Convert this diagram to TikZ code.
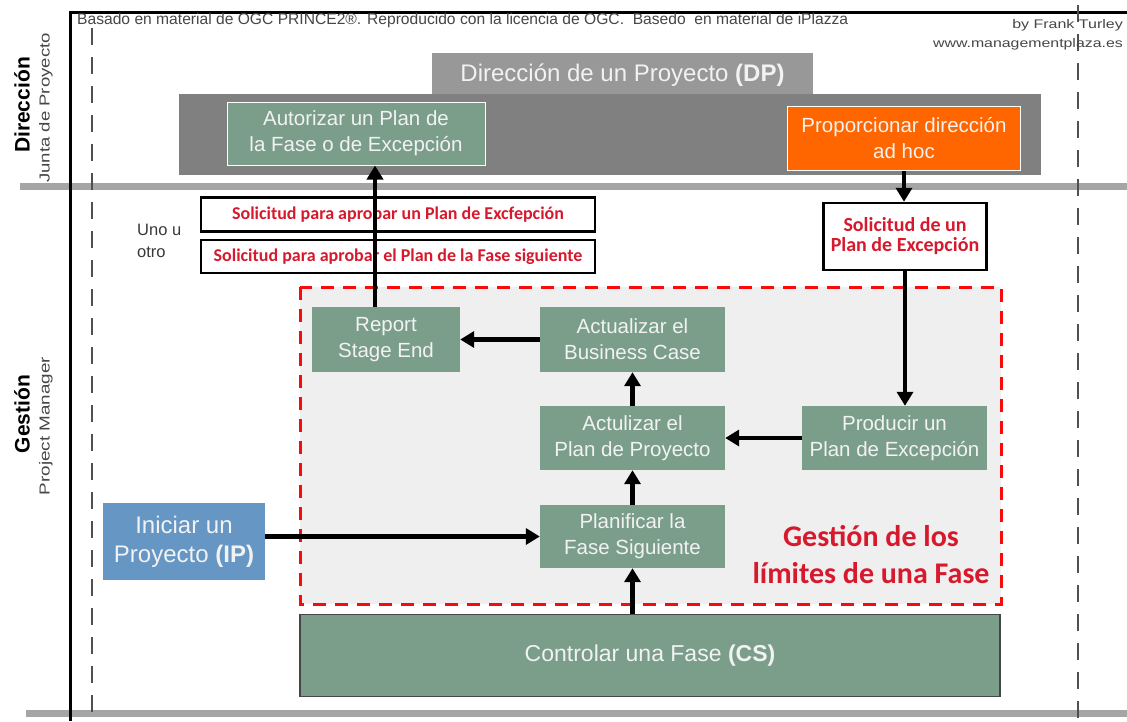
\documentclass[tikz,border=0pt]{standalone}
\usepackage{fontspec}
\setmainfont{Liberation Sans}
\newfontfamily\calib{Carlito}
\usetikzlibrary{arrows.meta}

\definecolor{procgreen}{RGB}{123,158,139}
\definecolor{boardgray}{RGB}{128,128,128}
\definecolor{headgray}{RGB}{152,152,152}
\definecolor{adhocorange}{RGB}{255,102,0}
\definecolor{startblue}{RGB}{101,150,196}
\definecolor{bargray}{RGB}{165,165,165}
\definecolor{zonefill}{RGB}{239,239,239}
\definecolor{zonered}{RGB}{250,10,10}
\definecolor{msgred}{RGB}{215,25,45}
\definecolor{lighttext}{RGB}{242,242,242}
\definecolor{notegray}{RGB}{70,70,70}
\definecolor{dashgray}{RGB}{80,80,80}

\tikzset{
  proc/.style={fill=procgreen, text=lighttext, align=center, inner sep=0pt,
    font=\fontsize{20.5}{26}\selectfont},
  msgbox/.style={draw=black, line width=2.5pt, fill=white, text=msgred, align=center,
    inner sep=0pt, font=\calib\bfseries\fontsize{18}{20}\selectfont},
  flow/.style={line width=4.5pt, -{Triangle[length=14pt,width=16pt]}},
  lane/.style={dashgray, line width=2.6pt, dash pattern=on 17pt off 12pt},
  bar/.style={bargray, line width=7pt},
  sidelabel/.style={rotate=90, inner sep=0pt, text=notegray, font=\fontsize{14.5}{16}\selectfont},
  lanetitle/.style={rotate=90, inner sep=0pt, font=\bfseries\fontsize{21}{22}\selectfont},
}

\begin{document}
\begin{tikzpicture}[x=1pt,y=-1pt]
\useasboundingbox (0,0) rectangle (1127,721);

% swimlane separators
\draw[bar] (20,186) -- (1127,186);
\draw[bar] (26,713) -- (1127,713);

% outer frame
\draw[line width=3pt] (70,721) -- (70,12) -- (1127,12);

% dashed lane guides
\draw[lane] (92,28) -- (92,721);
\draw[lane] (1078,5) -- (1078,721);

% credits
\node[anchor=west, text=notegray, inner sep=0pt] (credit) at (77,20)
  {\resizebox{771pt}{!}{Basado en material de OGC PRINCE2®. Reproducido con la licencia de OGC.\ \ Basedo\ \ en material de iPlazza}};
\node[anchor=east, text=notegray, inner sep=0pt, font=\fontsize{12.5}{14}\selectfont] (author) at (1123,25)
  {\scalebox{1.28}[1]{by Frank Turley}};
\node[anchor=east, text=notegray, inner sep=0pt, font=\fontsize{12.5}{14}\selectfont] (site) at (1123,44)
  {\scalebox{1.27}[1]{www.managementplaza.es}};

% lane labels
\node[lanetitle] (lanedir) at (22,105) {Dirección};
\node[sidelabel] (lanedirsub) at (46,108) {\scalebox{1.28}[1]{Junta de Proyecto}};
\node[lanetitle] (lanegest) at (22,414) {Gestión};
\node[sidelabel] (lanegestsub) at (46,426) {\scalebox{1.3}[1]{Project Manager}};

% Directing a Project
\node[fill=headgray, minimum width=381pt, minimum height=44pt, inner sep=0pt,
  text=lighttext, font=\fontsize{24}{26}\selectfont] (dp) at (622.5,75)
  {Dirección de un Proyecto \textbf{(DP)}};
\node[fill=boardgray, minimum width=862pt, minimum height=81pt, inner sep=0pt] (board) at (610,134.5) {};
\node[proc, draw=white, line width=1pt, minimum width=258pt, minimum height=63pt] (auth) at (356,133.5)
  {Autorizar un Plan de\\la Fase o de Excepción};
\node[proc, fill=adhocorange, draw=white, line width=1pt, minimum width=233pt, minimum height=64pt] (adhoc) at (904,138)
  {Proporcionar dirección\\ad hoc};

% requests
\node[msgbox, minimum width=163pt, minimum height=67pt, font=\calib\bfseries\fontsize{20}{20}\selectfont] (excreq) at (905,236.5)
  {Solicitud de un\\Plan de Excepción};
\node[msgbox, minimum width=394pt, minimum height=34pt] (req1) at (398,214.5)
  {Solicitud para aprobar un Plan de Excfepción};
\node[msgbox, minimum width=394pt, minimum height=33pt] (req2) at (398,256.5)
  {Solicitud para aprobar el Plan de la Fase siguiente};
\node[font=\fontsize{16.5}{22}\selectfont, text=notegray!80!black, align=left, inner sep=0pt, anchor=west] (either) at (137,241)
  {Uno u\\otro};

% stage boundary zone
\draw[fill=zonefill, draw=zonered, line width=3pt, dash pattern=on 13pt off 9pt] (300,287) rectangle (1001,604);
\node[text=msgred, align=center, inner sep=0pt, font=\calib\bfseries\fontsize{30}{37}\selectfont] (zonelabel) at (871,555)
  {Gestión de los\\límites de una Fase};

\node[proc, minimum width=148pt, minimum height=65pt] (rse) at (386,339.5) {Report\\Stage End};
\node[proc, minimum width=185pt, minimum height=65pt] (ubc) at (632.5,339.5) {Actualizar el\\Business Case};
\node[proc, minimum width=185pt, minimum height=64pt] (upp) at (632.5,438) {Actulizar el\\Plan de Proyecto};
\node[proc, minimum width=185pt, minimum height=64pt] (pex) at (894.5,438) {Producir un\\Plan de Excepción};
\node[proc, minimum width=185pt, minimum height=63pt] (pns) at (632.5,536.5) {Planificar la\\Fase Siguiente};

% starting up and controlling
\node[proc, fill=startblue, minimum width=162pt, minimum height=77pt, font=\fontsize{24}{29}\selectfont] (ip) at (184,541.5)
  {Iniciar un\\Proyecto \textbf{(IP)}};
\node[proc, draw=notegray, line width=1.5pt, minimum width=700pt, minimum height=82pt, font=\fontsize{23}{26}\selectfont] (cs) at (650,655.5)
  {Controlar una Fase \textbf{(CS)}};

% flows
\draw[flow] ([xshift=-11pt]rse.north) -- ([xshift=-11pt]rse.north |- auth.south);
\draw[flow] (adhoc.south) -- (adhoc.south |- excreq.north);
\draw[flow] (excreq.south) -- (excreq.south |- pex.north);
\draw[flow] (ubc.west) -- (rse.east);
\draw[flow] (upp.north) -- (ubc.south);
\draw[flow] (pex.west) -- (upp.east);
\draw[flow] (pns.north) -- (upp.south);
\draw[flow] (cs.north -| pns.south) -- (pns.south);
\draw[flow] (pns.west -| ip.east) -- (pns.west);
\end{tikzpicture}
\end{document}
